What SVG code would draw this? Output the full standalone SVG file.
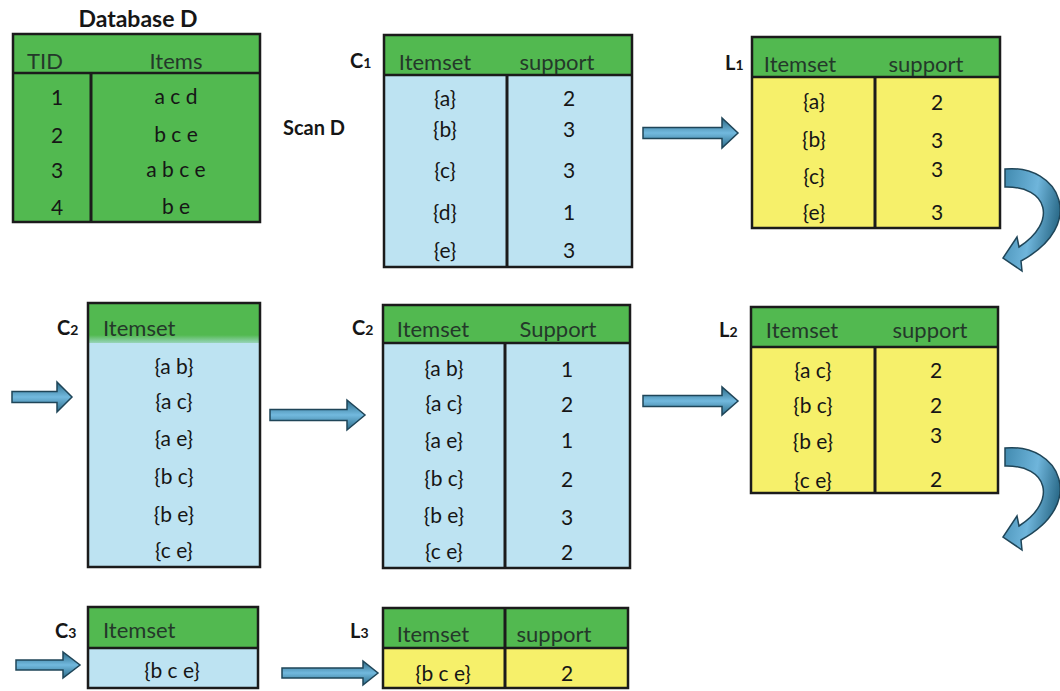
<svg xmlns="http://www.w3.org/2000/svg" width="1060" height="691" viewBox="0 0 1060 691">
<defs>
<linearGradient id="ag" x1="0" y1="0" x2="0" y2="1">
<stop offset="0" stop-color="#2b6b88"/>
<stop offset="0.5" stop-color="#72b9de"/>
<stop offset="1" stop-color="#2b6b88"/>
</linearGradient>
<linearGradient id="cg" x1="0" y1="0" x2="1" y2="0.3">
<stop offset="0" stop-color="#3f88ad"/>
<stop offset="0.6" stop-color="#6fb5db"/>
<stop offset="1" stop-color="#2f6f8e"/>
</linearGradient>
<linearGradient id="fade" x1="0" y1="0" x2="0" y2="1">
<stop offset="0" stop-color="#52b950"/>
<stop offset="0.8" stop-color="#52b950"/>
<stop offset="1" stop-color="#52b950" stop-opacity="0.35"/>
</linearGradient>
</defs>
<style>
.g{fill:#52b950}
.b{fill:#bde3f2}
.y{fill:#f6f06a}
.fr{fill:none;stroke:#1b1b1b;stroke-width:2.5}
.ln{stroke:#1b1b1b;stroke-width:2.5}
.dv{stroke:#1b1b1b;stroke-width:3}
text{font-family:Lato,"Liberation Sans",sans-serif;fill:#161616}
.t{font-size:21px;text-anchor:middle}
.h{font-size:22px;text-anchor:middle;fill:#24382a}
.hs{font-size:22px;fill:#24382a}
.lb{font-size:20px;font-weight:bold}
.title{font-size:23px;font-weight:bold;text-anchor:middle}
.sub{font-size:14px;font-weight:bold}
.ar{fill:url(#ag);stroke:#1f4558;stroke-width:1.5}
.ca{fill:url(#cg);stroke:#1f4558;stroke-width:1.5}
</style>
<rect width="1060" height="691" fill="#ffffff"/>

<g id="databaseD">
<text class="title" x="138" y="27">Database D</text>
<rect class="g" x="13" y="34" width="247" height="188"/>
<rect class="fr" x="13" y="34" width="247" height="188"/>
<line class="ln" x1="13" y1="73" x2="260" y2="73"/>
<line class="dv" x1="91" y1="73" x2="91" y2="222"/>
<text class="hs" x="27" y="69">TID</text>
<text class="h" x="176" y="69">Items</text>
<text class="t" x="57" y="105">1</text>
<text class="t" x="57" y="143">2</text>
<text class="t" x="57" y="178">3</text>
<text class="t" x="57" y="215">4</text>
<text class="t" x="176" y="104">a c d</text>
<text class="t" x="176" y="142">b c e</text>
<text class="t" x="176" y="177">a b c e</text>
<text class="t" x="176" y="214">b e</text>
</g>

<g id="scanD">
<text class="lb" x="283" y="135">Scan D</text>
</g>

<g id="C1">
<text class="lb" x="350" y="68">C<tspan class="sub">1</tspan></text>
<rect class="g" x="384" y="35" width="248" height="40"/>
<rect class="b" x="384" y="75" width="248" height="192"/>
<rect class="fr" x="384" y="35" width="248" height="232"/>
<line class="ln" x1="384" y1="75" x2="632" y2="75"/>
<line class="dv" x1="507" y1="75" x2="507" y2="267"/>
<text class="h" x="435" y="70">Itemset</text>
<text class="h" x="557" y="70">support</text>
<text class="t" x="445" y="106">{a}</text>
<text class="t" x="445" y="137">{b}</text>
<text class="t" x="445" y="178">{c}</text>
<text class="t" x="445" y="220">{d}</text>
<text class="t" x="445" y="258">{e}</text>
<text class="t" x="569" y="106">2</text>
<text class="t" x="569" y="137">3</text>
<text class="t" x="569" y="178">3</text>
<text class="t" x="569" y="220">1</text>
<text class="t" x="569" y="258">3</text>
</g>

<g id="L1">
<text class="lb" x="725" y="70">L<tspan class="sub">1</tspan></text>
<rect class="g" x="752" y="37" width="248" height="40"/>
<rect class="y" x="752" y="77" width="248" height="151"/>
<rect class="fr" x="752" y="37" width="248" height="191"/>
<line class="ln" x1="752" y1="77" x2="1000" y2="77"/>
<line class="dv" x1="875" y1="77" x2="875" y2="228"/>
<text class="h" x="800" y="72">Itemset</text>
<text class="h" x="926" y="72">support</text>
<text class="t" x="814" y="109">{a}</text>
<text class="t" x="814" y="147">{b}</text>
<text class="t" x="814" y="184">{c}</text>
<text class="t" x="814" y="220">{e}</text>
<text class="t" x="937" y="110">2</text>
<text class="t" x="937" y="148">3</text>
<text class="t" x="937" y="177">3</text>
<text class="t" x="937" y="220">3</text>
</g>

<g id="C2a">
<text class="lb" x="57" y="335">C<tspan class="sub">2</tspan></text>
<rect class="b" x="88" y="303" width="172" height="264"/>
<rect x="88" y="303" width="172" height="40" fill="url(#fade)"/>
<rect class="fr" x="88" y="303" width="172" height="264"/>
<text class="hs" x="103" y="336">Itemset</text>
<text class="t" x="174" y="374">{a b}</text>
<text class="t" x="174" y="409">{a c}</text>
<text class="t" x="174" y="446">{a e}</text>
<text class="t" x="174" y="484">{b c}</text>
<text class="t" x="174" y="522">{b e}</text>
<text class="t" x="174" y="558">{c e}</text>
</g>

<g id="C2b">
<text class="lb" x="352" y="335">C<tspan class="sub">2</tspan></text>
<rect class="g" x="383" y="305" width="247" height="38"/>
<rect class="b" x="383" y="343" width="247" height="225"/>
<rect class="fr" x="383" y="305" width="247" height="263"/>
<line class="ln" x1="383" y1="343" x2="630" y2="343"/>
<line class="dv" x1="505" y1="343" x2="505" y2="568"/>
<text class="h" x="433" y="337">Itemset</text>
<text class="h" x="558" y="337">Support</text>
<text class="t" x="444" y="376">{a b}</text>
<text class="t" x="444" y="411">{a c}</text>
<text class="t" x="444" y="448">{a e}</text>
<text class="t" x="444" y="486">{b c}</text>
<text class="t" x="444" y="523">{b e}</text>
<text class="t" x="444" y="559">{c e}</text>
<text class="t" x="567" y="377">1</text>
<text class="t" x="567" y="412">2</text>
<text class="t" x="567" y="448">1</text>
<text class="t" x="567" y="487">2</text>
<text class="t" x="567" y="525">3</text>
<text class="t" x="567" y="560">2</text>
</g>

<g id="L2">
<text class="lb" x="719" y="337">L<tspan class="sub">2</tspan></text>
<rect class="g" x="751" y="307" width="247" height="40"/>
<rect class="y" x="751" y="347" width="247" height="146"/>
<rect class="fr" x="751" y="307" width="247" height="186"/>
<line class="ln" x1="751" y1="347" x2="998" y2="347"/>
<line class="dv" x1="875" y1="347" x2="875" y2="493"/>
<text class="h" x="802" y="338">Itemset</text>
<text class="h" x="930" y="338">support</text>
<text class="t" x="813" y="378">{a c}</text>
<text class="t" x="813" y="413">{b c}</text>
<text class="t" x="813" y="449">{b e}</text>
<text class="t" x="813" y="488">{c e}</text>
<text class="t" x="936" y="378">2</text>
<text class="t" x="936" y="413">2</text>
<text class="t" x="936" y="443">3</text>
<text class="t" x="936" y="487">2</text>
</g>

<g id="C3">
<text class="lb" x="55" y="638">C<tspan class="sub">3</tspan></text>
<rect class="g" x="88" y="607" width="170" height="41"/>
<rect class="b" x="88" y="648" width="170" height="40"/>
<rect class="fr" x="88" y="607" width="170" height="81"/>
<line class="ln" x1="88" y1="648" x2="258" y2="648"/>
<text class="hs" x="103" y="638">Itemset</text>
<text class="t" x="172" y="678">{b c e}</text>
</g>

<g id="L3">
<text class="lb" x="350" y="638">L<tspan class="sub">3</tspan></text>
<rect class="g" x="383" y="608" width="245" height="40"/>
<rect class="y" x="383" y="648" width="245" height="40"/>
<rect class="fr" x="383" y="608" width="245" height="80"/>
<line class="ln" x1="383" y1="648" x2="628" y2="648"/>
<line class="dv" x1="505" y1="608" x2="505" y2="688"/>
<text class="h" x="433" y="642">Itemset</text>
<text class="h" x="554" y="642">support</text>
<text class="t" x="443" y="681">{b c e}</text>
<text class="t" x="567" y="681">2</text>
</g>

<g id="connectors">
<path class="ar" d="M643,127.5 L722,127.5 L722,118 L738,133 L722,148 L722,138.5 L643,138.5 Z"/>
<path class="ar" d="M12,391.5 L57,391.5 L57,382 L72,397 L57,412 L57,402.5 L12,402.5 Z"/>
<path class="ar" d="M270,409.5 L347,409.5 L347,400 L365,415 L347,430 L347,420.5 L270,420.5 Z"/>
<path class="ar" d="M643,395.5 L722,395.5 L722,387 L738,401 L722,415 L722,406.5 L643,406.5 Z"/>
<path class="ar" d="M16,660 L63,660 L63,652 L80,665 L63,678 L63,670 L16,670 Z"/>
<path class="ar" d="M282,668 L363,668 L363,661 L378,673 L363,685 L363,678 L282,678 Z"/>
<path class="ca" d="M1005,169 C1060,164 1088,225 1021,261 L1022,271 L1003,258 L1017,237 L1019,247 C1058,222 1048,186 1005,187 Z"/>
<path class="ca" transform="translate(0,279)" d="M1005,169 C1060,164 1088,225 1021,261 L1022,271 L1003,258 L1017,237 L1019,247 C1058,222 1048,186 1005,187 Z"/>
</g>
</svg>
